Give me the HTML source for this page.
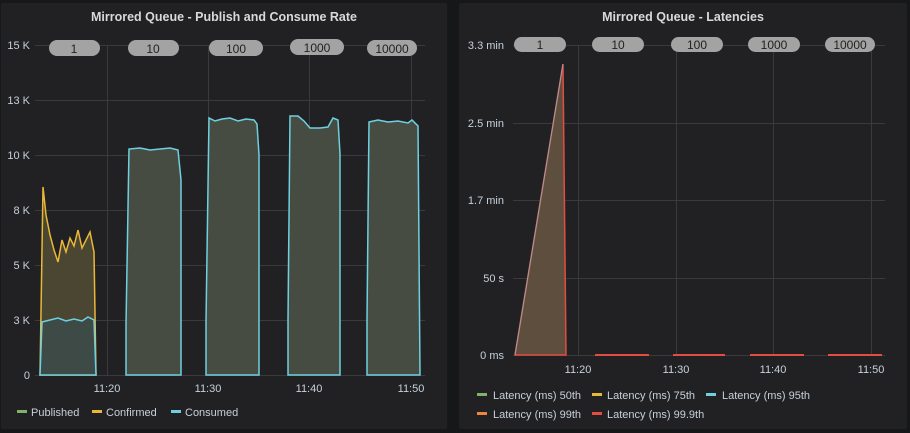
<!DOCTYPE html>
<html><head><style>
body{margin:0;background:#161719;width:910px;height:433px;overflow:hidden;font-family:"Liberation Sans",sans-serif}
svg{display:block}
text{font-family:"Liberation Sans",sans-serif}
</style></head><body>
<svg width="910" height="433" viewBox="0 0 910 433">
<rect width="910" height="433" fill="#161719"/>
<rect x="1" y="3" width="446" height="426" fill="#212124" rx="2"/>
<rect x="459" y="3" width="448" height="426" fill="#212124" rx="2"/>
<text x="224" y="21" fill="#d8d9da" font-size="12.5" font-weight="bold" text-anchor="middle">Mirrored Queue - Publish and Consume Rate</text>
<text x="683" y="21" fill="#d8d9da" font-size="12.5" font-weight="bold" text-anchor="middle">Mirrored Queue - Latencies</text>
<g stroke="#3a3a3d" stroke-width="1">
<line x1="35" y1="45.5" x2="425" y2="45.5"/><line x1="35" y1="100.5" x2="425" y2="100.5"/><line x1="35" y1="155.5" x2="425" y2="155.5"/><line x1="35" y1="210.5" x2="425" y2="210.5"/><line x1="35" y1="265.5" x2="425" y2="265.5"/><line x1="35" y1="320.5" x2="425" y2="320.5"/><line x1="35" y1="375.5" x2="425" y2="375.5"/>
<line x1="107.5" y1="45" x2="107.5" y2="375"/><line x1="208.5" y1="45" x2="208.5" y2="375"/><line x1="309.5" y1="45" x2="309.5" y2="375"/><line x1="411.5" y1="45" x2="411.5" y2="375"/>
<line x1="513" y1="45.5" x2="885" y2="45.5"/><line x1="513" y1="123.5" x2="885" y2="123.5"/><line x1="513" y1="200.5" x2="885" y2="200.5"/><line x1="513" y1="278.5" x2="885" y2="278.5"/><line x1="513" y1="355.5" x2="885" y2="355.5"/>
<line x1="578.5" y1="45" x2="578.5" y2="355"/><line x1="676.5" y1="45" x2="676.5" y2="355"/><line x1="773.5" y1="45" x2="773.5" y2="355"/><line x1="871.5" y1="45" x2="871.5" y2="355"/>
</g>
<g fill="#c7d0d9" font-size="11" text-anchor="end">
<text x="30" y="49">15 K</text><text x="30" y="104">13 K</text><text x="30" y="159">10 K</text><text x="30" y="214">8 K</text><text x="30" y="269">5 K</text><text x="30" y="324">3 K</text><text x="30" y="379">0</text>
<text x="504" y="49">3.3 min</text><text x="504" y="127">2.5 min</text><text x="504" y="204">1.7 min</text><text x="504" y="282">50 s</text><text x="504" y="359">0 ms</text>
</g>
<g fill="#c7d0d9" font-size="11" text-anchor="middle">
<text x="107" y="392">11:20</text><text x="208" y="392">11:30</text><text x="309" y="392">11:40</text><text x="411" y="392">11:50</text>
<text x="578" y="373">11:20</text><text x="676" y="373">11:30</text><text x="773" y="373">11:40</text><text x="871" y="373">11:50</text>
</g>
<!-- left series -->
<path d="M40 375 L43 187 L46 215 L50 235 L54 250 L58 262 L62 240 L66 252 L70 238 L74 246 L78 230 L82 248 L86 240 L90 232 L94 252 L96 375 Z" fill="#4a4631" stroke="#eab839" stroke-width="1.5"/>
<path d="M40 375 L42 322 L50 320 L58 318 L66 321 L74 319 L82 321 L88 317 L94 320 L96 375 Z" fill="#3e4a45" stroke="#6ed0e0" stroke-width="1.5"/>
<g fill="#464c42" stroke="#6ed0e0" stroke-width="1.5">
<path d="M126 375 L126 325 L129 149 L140 148 L150 150 L160 149 L170 148 L178 150 L181 180 L181 375 Z"/>
<path d="M206 375 L206 322 L209 118 L215 121 L222 119 L230 118 L238 121 L246 119 L254 120 L257 124 L259 155 L259 375 Z"/>
<path d="M288 375 L288 320 L290 116 L298 116 L304 121 L310 128 L320 128 L328 127 L333 118 L338 120 L340 154 L340 375 Z"/>
<path d="M367 375 L367 320 L369 122 L378 120 L388 122 L398 121 L408 123 L412 120 L418 126 L420 375 Z"/>
</g>
<!-- pills -->
<g fill="#a3a3a3"><rect x="49" y="40" width="51" height="16" rx="8"/><rect x="128" y="40" width="51" height="16" rx="8"/><rect x="209" y="40" width="54" height="16" rx="8"/><rect x="290" y="39" width="54" height="16" rx="8"/><rect x="367" y="40" width="50" height="16" rx="8"/>
<rect x="514" y="37" width="52" height="15" rx="7.5"/><rect x="592" y="37" width="52" height="15" rx="7.5"/><rect x="671" y="37" width="52" height="15" rx="7.5"/><rect x="748" y="37" width="52" height="15" rx="7.5"/><rect x="825" y="37" width="50" height="15" rx="7.5"/></g>
<g fill="#222" font-size="12" text-anchor="middle">
<text x="74" y="53">1</text><text x="153" y="53">10</text><text x="236" y="53">100</text><text x="317" y="52">1000</text><text x="392" y="53">10000</text>
<text x="540" y="49">1</text><text x="618" y="49">10</text><text x="697" y="49">100</text><text x="774" y="49">1000</text><text x="850" y="49">10000</text>
</g>
<!-- right series -->
<path d="M515 355 L563 64 L566 355 Z" fill="#5e4e3e" stroke="#e24d42" stroke-width="1.5"/>
<path d="M515 355 L563 64" stroke="#6ed0e0" stroke-width="1" opacity="0.6"/>
<g stroke="#e24d42" stroke-width="2"><line x1="595" y1="355" x2="649" y2="355"/><line x1="673" y1="355" x2="725" y2="355"/><line x1="750" y1="355" x2="804" y2="355"/><line x1="828" y1="355" x2="882" y2="355"/></g>
<!-- legends -->
<g font-size="11" fill="#c7d0d9">
<rect x="17" y="410" width="10" height="3" fill="#7eb26d"/><text x="31" y="416">Published</text>
<rect x="92" y="410" width="10" height="3" fill="#eab839"/><text x="106" y="416">Confirmed</text>
<rect x="171" y="410" width="10" height="3" fill="#6ed0e0"/><text x="185" y="416">Consumed</text>
<rect x="477" y="393" width="10" height="3" fill="#7eb26d"/><text x="493" y="399">Latency (ms) 50th</text>
<rect x="592" y="393" width="10" height="3" fill="#eab839"/><text x="607" y="399">Latency (ms) 75th</text>
<rect x="706" y="393" width="10" height="3" fill="#6ed0e0"/><text x="722" y="399">Latency (ms) 95th</text>
<rect x="477" y="412" width="10" height="3" fill="#ef843c"/><text x="493" y="418">Latency (ms) 99th</text>
<rect x="592" y="412" width="10" height="3" fill="#e24d42"/><text x="607" y="418">Latency (ms) 99.9th</text>
</g>
</svg>
</body></html>
